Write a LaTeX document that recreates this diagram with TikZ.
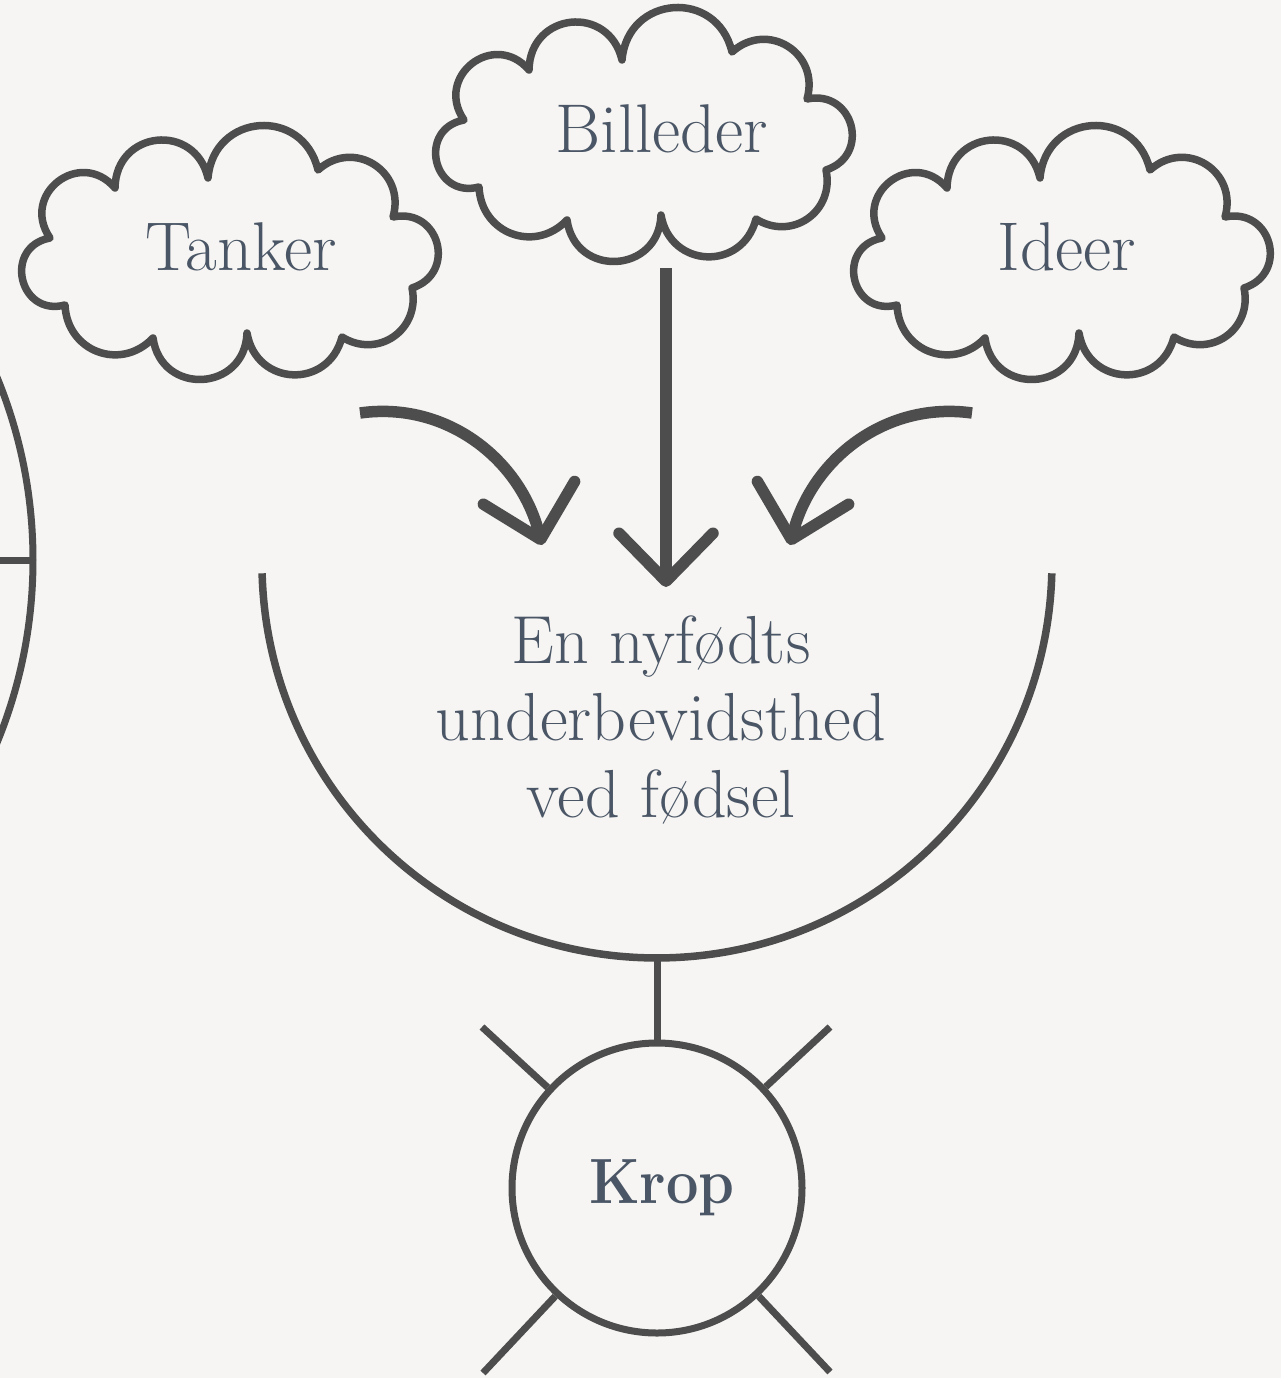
\documentclass[tikz,border=0pt]{standalone}
\usepackage{fontspec}
\usetikzlibrary{arrows.meta}
\definecolor{bg}{HTML}{F6F5F3}
\definecolor{ink}{HTML}{4D4D4D}
\definecolor{txt}{HTML}{4A5666}
\newcommand\myCloudOutline{%
  (115,-188) to[puff={83}{1.58}] (208,-178) to[puff={81}{1.52}] (318,-170)
  to[puff={74}{1.38}] (393,-217) to[puff={87}{1.66}] (412,-288) to[puff={67}{1.27}] (342,-337)
  to[puff={78}{1.46}] (247,-333) to[puff={85}{1.6}] (153,-338) to[puff={67}{1.27}] (65,-305)
  to[puff={92}{1.78}] (50,-238) to[puff={87}{1.66}] (115,-188) -- cycle}
\begin{document}
\begin{tikzpicture}[x=1pt,y=1pt,
  puff/.style 2 args={bend left=#1, looseness=#2},
  cloudline/.style={draw=ink, line width=7.5pt, line join=round},
  cloudtext/.style={text=txt, font=\fontsize{69}{77}\selectfont, anchor=base, inner sep=0pt},
  arr/.style={draw=ink, line width=11.5pt, -{Straight Barb[length=48pt,width=94pt,round]}},
  thin/.style={draw=ink, line width=7pt},
]
\useasboundingbox (0,0) rectangle (1281,-1378);
\fill[bg] (0,0) rectangle (1281,-1378);
\begin{scope}
\clip (0,0) rectangle (1281,-1378);
% partial figure at the left edge
\coordinate (lc) at (-447,-560);
\coordinate (le) at (33,-560);
\draw[thin] (lc) circle[radius=480];
\draw[thin] (-927,-560) -- (le);

% clouds
\draw[cloudline] \myCloudOutline;
\node[cloudtext] (tanker) at (241,-270) {Tanker};
\begin{scope}[shift={(414,118)}]
\draw[cloudline] \myCloudOutline;
\end{scope}
\node[cloudtext] (billeder) at (662,-153) {Billeder};
\begin{scope}[shift={(832,0)}]
\draw[cloudline] \myCloudOutline;
\end{scope}
\node[cloudtext] (ideer) at (1067,-270) {Ideer};

% arrows
\coordinate (la0) at (360,-413);
\coordinate (la1) at (542,-545);
\coordinate (va0) at (666,-268);
\coordinate (va1) at (666,-587);
\coordinate (ra0) at (972,-413);
\coordinate (ra1) at (790,-545);
\draw[arr] (la0) to[out=8,in=104] (la1);
\draw[arr] (va0) -- (va1);
\draw[arr] (ra0) to[out=172,in=76] (ra1);

% bowl
\coordinate (bowlbot) at (657,-958);
\draw[thin, line width=7.5pt] (262.1,-573.3) arc[start angle=181.5, end angle=358.5, radius=395];
\node[text=txt, font=\fontsize{68}{77}\selectfont, align=center, anchor=base, inner sep=0pt]
  (mind) at (661,-817) {En nyfødts\\underbevidsthed\\ved fødsel};

% body
\node[circle, draw=ink, line width=7pt, minimum size=290pt, inner sep=0pt] (krop) at (657,-1188) {};
\node[text=txt, font=\fontsize{64}{68}\selectfont\bfseries, anchor=base, inner sep=0pt] (kroplabel) at (662,-1203) {\scalebox{0.9}[1]{Krop}};
\draw[thin] (bowlbot) -- (krop);
\coordinate (tl) at (482,-1027);
\coordinate (tr) at (830,-1027);
\coordinate (bl) at (483,-1373);
\coordinate (br) at (830,-1372);
\draw[thin] (krop) -- (tl);
\draw[thin] (krop) -- (tr);
\draw[thin] (krop) -- (bl);
\draw[thin] (krop) -- (br);
\end{scope}
\end{tikzpicture}
\end{document}
